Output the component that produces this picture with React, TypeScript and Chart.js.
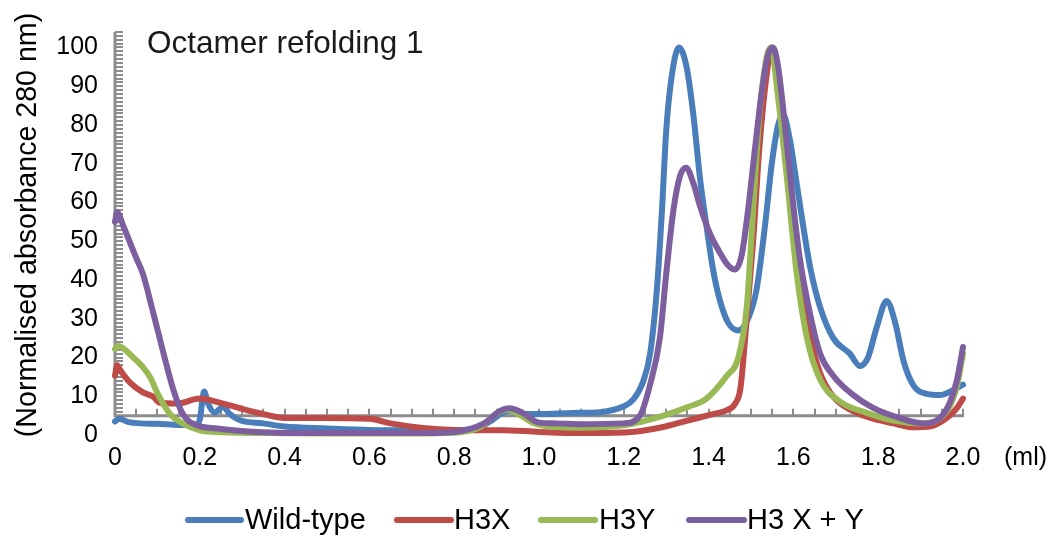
import { useEffect, useRef } from 'react';
import { Chart, registerables } from 'chart.js';

Chart.register(...registerables);

// ---- data (elution volume in ml, normalised absorbance) ----
const wildTypeX = [0.0, 0.01, 0.03, 0.06, 0.1, 0.15, 0.19, 0.2, 0.21, 0.22, 0.235, 0.255, 0.27, 0.295, 0.35, 0.4, 0.5, 0.6, 0.7, 0.8, 0.85, 0.885, 0.91, 0.93, 0.96, 1.0, 1.08, 1.144, 1.2, 1.222, 1.245, 1.262, 1.278, 1.29, 1.3, 1.313, 1.33, 1.348, 1.364, 1.38, 1.395, 1.41, 1.426, 1.446, 1.47, 1.493, 1.513, 1.533, 1.549, 1.564, 1.576, 1.592, 1.608, 1.623, 1.64, 1.663, 1.694, 1.733, 1.757, 1.776, 1.797, 1.82, 1.84, 1.86, 1.883, 1.915, 1.946, 1.977, 2.0];
const wildTypeY = [3.5, 4.2, 3.4, 3.0, 2.9, 2.6, 2.6, 4, 11.2, 8, 5.8, 7.3, 5.5, 3.8, 3.0, 2.2, 1.7, 1.3, 1.2, 1.2, 1.6, 3.5, 5.5, 6.2, 5.4, 5.4, 5.7, 5.9, 7.4, 9.1, 13.6, 21, 37.5, 58, 78.5, 92.6, 100, 95, 82.7, 66, 54, 43, 35, 29, 27, 30, 37.5, 54, 70, 80, 82.7, 76, 64.7, 54, 43, 33, 25, 21, 17.8, 20, 28, 34.6, 29, 19, 12.8, 10.6, 10.3, 11.6, 13];

const h3xX = [0.0, 0.005, 0.012, 0.035, 0.066, 0.09, 0.106, 0.146, 0.2, 0.255, 0.295, 0.35, 0.4, 0.49, 0.6, 0.65, 0.725, 0.8, 0.92, 1.04, 1.1, 1.21, 1.29, 1.35, 1.41, 1.443, 1.462, 1.475, 1.487, 1.505, 1.52, 1.537, 1.549, 1.573, 1.59, 1.615, 1.64, 1.663, 1.694, 1.74, 1.788, 1.835, 1.883, 1.922, 1.962, 1.986, 2.0];
const h3xY = [15.3, 18, 16.8, 13.6, 11, 9.9, 8.3, 8.1, 9.4, 8.1, 6.9, 5.4, 4.4, 4.4, 4.2, 3, 1.8, 1.3, 1.2, 0.6, 0.5, 0.7, 2, 3.7, 5.4, 6.4, 8, 12, 26, 50, 74.5, 93, 100, 82.7, 62, 41.5, 25, 16, 9.9, 6.2, 4.2, 3, 2, 2.2, 4.4, 7, 9.4];

const h3yX = [0.0, 0.007, 0.043, 0.066, 0.085, 0.1, 0.13, 0.16, 0.2, 0.255, 0.35, 0.5, 0.7, 0.8, 0.86, 0.9, 0.925, 0.95, 0.985, 1.05, 1.1, 1.2, 1.29, 1.356, 1.395, 1.443, 1.47, 1.49, 1.505, 1.52, 1.537, 1.547, 1.564, 1.585, 1.608, 1.632, 1.663, 1.71, 1.773, 1.835, 1.9, 1.962, 1.986, 2.0];
const h3yY = [22.2, 23, 20, 17.5, 14.5, 10.8, 5.4, 3, 1.2, 0.7, 0.5, 0.4, 0.4, 0.6, 2, 5.5, 6.5, 5.5, 3.2, 2, 1.9, 2.5, 4.9, 7.4, 9.4, 15.3, 20, 33, 58, 82.7, 97.5, 100, 87, 66, 41.5, 25, 14.3, 8.6, 5.7, 3.7, 3, 6.2, 12.8, 21];

const h3xyX = [0.0, 0.005, 0.02, 0.05, 0.066, 0.09, 0.113, 0.137, 0.16, 0.193, 0.24, 0.335, 0.5, 0.7, 0.8, 0.87, 0.908, 0.93, 0.962, 1.0, 1.04, 1.1, 1.2, 1.238, 1.262, 1.285, 1.3, 1.317, 1.333, 1.347, 1.364, 1.38, 1.403, 1.427, 1.446, 1.462, 1.478, 1.493, 1.51, 1.526, 1.54, 1.552, 1.564, 1.58, 1.597, 1.615, 1.64, 1.663, 1.694, 1.74, 1.788, 1.85, 1.906, 1.946, 1.97, 1.986, 2.0];
const h3xyY = [55, 57.5, 53.8, 45.7, 41.5, 31.6, 21.7, 11.9, 5.4, 2.5, 1.7, 0.8, 0.5, 0.5, 0.8, 3, 6.2, 6.9, 5.7, 3.2, 3, 2.8, 3, 5, 13, 25, 41.5, 58, 67, 69, 65, 59, 52, 47, 43.8, 42.7, 46.4, 58, 74.5, 89, 98, 100, 95, 80, 62, 45.7, 30.9, 21, 15.3, 10.4, 7, 4.4, 3, 4.4, 8.6, 14.3, 22.7];

const seriesNames = ['Wild-type', 'H3X', 'H3Y', 'H3 X + Y'];
const seriesColors = ['#4A7EBB', '#BE4B48', '#98B954', '#7D5FA0'];

const chartTitle = 'Octamer refolding 1';
const yAxisTitle = '(Normalised absorbance 280 nm)';
const xUnit = '(ml)';

const FONT = '"Liberation Sans", Arial, Helvetica, sans-serif';

const toPoints = (xs: number[], ys: number[]) => xs.map((x, i) => ({ x, y: ys[i] }));

export default function App() {
  const canvasRef = useRef<HTMLCanvasElement | null>(null);

  useEffect(() => {
    const canvas = canvasRef.current;
    if (!canvas) return;

    const decorPlugin = {
      id: 'decor',
      beforeDatasetsDraw(chart: any) {
        const { ctx, scales } = chart;
        const xs = scales.x;
        const ys = scales.y;
        const x0 = xs.getPixelForValue(0);
        const x1 = xs.getPixelForValue(2);
        const y0 = ys.getPixelForValue(5);
        const yTop = ys.getPixelForValue(104);
        ctx.save();
        ctx.strokeStyle = '#8C8C8C';
        ctx.lineCap = 'butt';
        ctx.lineWidth = 2;
        ctx.beginPath();
        for (let v = 6; v <= 104; v += 1) {
          const py = Math.round(ys.getPixelForValue(v));
          ctx.moveTo(x0, py);
          ctx.lineTo(x0 + 8, py);
        }
        for (let i = 1; i <= 40; i++) {
          const px = Math.round(xs.getPixelForValue(i * 0.05));
          ctx.moveTo(px, y0);
          ctx.lineTo(px, y0 - 7);
        }
        ctx.stroke();
        ctx.lineWidth = 3;
        ctx.beginPath();
        ctx.moveTo(x0, y0);
        ctx.lineTo(x0, yTop);
        ctx.moveTo(x0 - 1.5, y0);
        ctx.lineTo(x1 + 1, y0);
        ctx.stroke();
        ctx.restore();
      },
      afterDraw(chart: any) {
        const { ctx } = chart;
        ctx.save();
        ctx.fillStyle = '#1a1a1a';
        ctx.font = `31.5px ${FONT}`;
        ctx.textAlign = 'left';
        ctx.textBaseline = 'alphabetic';
        ctx.fillText(chartTitle, 147, 53);

        // y axis title
        ctx.save();
        ctx.translate(28, 225);
        ctx.rotate(-Math.PI / 2);
        ctx.fillStyle = '#000';
        ctx.font = `28.6px ${FONT}`;
        ctx.textAlign = 'center';
        ctx.textBaseline = 'middle';
        ctx.fillText(yAxisTitle, 0, 0);
        ctx.restore();

        ctx.fillStyle = '#000';
        ctx.font = `25px ${FONT}`;
        ctx.textAlign = 'left';
        ctx.textBaseline = 'middle';
        ctx.fillText(xUnit, 1004, 458);

        // legend
        const legendY = 520;
        const items = [
          { lx0: 188, lx1: 241, tx: 245 },
          { lx0: 397, lx1: 451, tx: 454 },
          { lx0: 541, lx1: 595, tx: 599 },
          { lx0: 689, lx1: 744, tx: 747 },
        ];
        ctx.font = `29px ${FONT}`;
        items.forEach((it, i) => {
          ctx.strokeStyle = seriesColors[i];
          ctx.lineWidth = 6;
          ctx.lineCap = 'round';
          ctx.beginPath();
          ctx.moveTo(it.lx0, legendY);
          ctx.lineTo(it.lx1, legendY);
          ctx.stroke();
          ctx.fillStyle = '#000';
          ctx.fillText(seriesNames[i], it.tx, legendY + 1);
        });
        ctx.restore();
      },
    };

    const seriesX = [wildTypeX, h3xX, h3yX, h3xyX];
    const seriesY = [wildTypeY, h3xY, h3yY, h3xyY];

    const chart = new Chart(canvas, {
      type: 'line',
      data: {
        datasets: seriesNames.map((name, i) => ({
          label: name,
          data: toPoints(seriesX[i], seriesY[i]),
          borderColor: seriesColors[i],
          backgroundColor: seriesColors[i],
          borderWidth: 6,
          pointRadius: 0,
          pointHoverRadius: 0,
          cubicInterpolationMode: 'monotone' as const,
          tension: 0.4,
          borderCapStyle: 'round' as const,
          borderJoinStyle: 'round' as const,
          clip: 10,
          order: 3 - i,
        })),
      },
      options: {
        animation: false,
        responsive: false,
        maintainAspectRatio: false,
        layout: { padding: { top: 14, right: 91, bottom: 0, left: 0 } },
        plugins: {
          legend: { display: false },
          tooltip: { enabled: false },
          title: { display: false },
        },
        scales: {
          x: {
            type: 'linear',
            min: 0,
            max: 2,
            grid: { display: false, drawTicks: false },
            border: { display: false },
            ticks: {
              stepSize: 0.2,
              autoSkip: false,
              maxRotation: 0,
              padding: 8,
              color: '#000',
              font: { size: 25, family: FONT },
              callback: (v: any) => (Number(v) === 0 ? '0' : Number(v).toFixed(1)),
            },
            afterFit: (s: any) => {
              s.height = 105;
            },
          },
          y: {
            type: 'linear',
            min: 0,
            max: 104,
            grid: { display: false, drawTicks: false },
            border: { display: false },
            ticks: {
              stepSize: 10,
              includeBounds: false,
              padding: 17,
              color: '#000',
              font: { size: 25, family: FONT },
            },
            afterFit: (s: any) => {
              s.width = 115;
            },
          },
        },
      },
      plugins: [decorPlugin],
    });

    return () => chart.destroy();
  }, []);

  return (
    <div style={{ position: 'fixed', left: 0, top: 0, width: 1054, height: 540, background: '#fff' }}>
      <canvas ref={canvasRef} width={1054} height={540} style={{ width: 1054, height: 540, display: 'block' }} />
    </div>
  );
}
